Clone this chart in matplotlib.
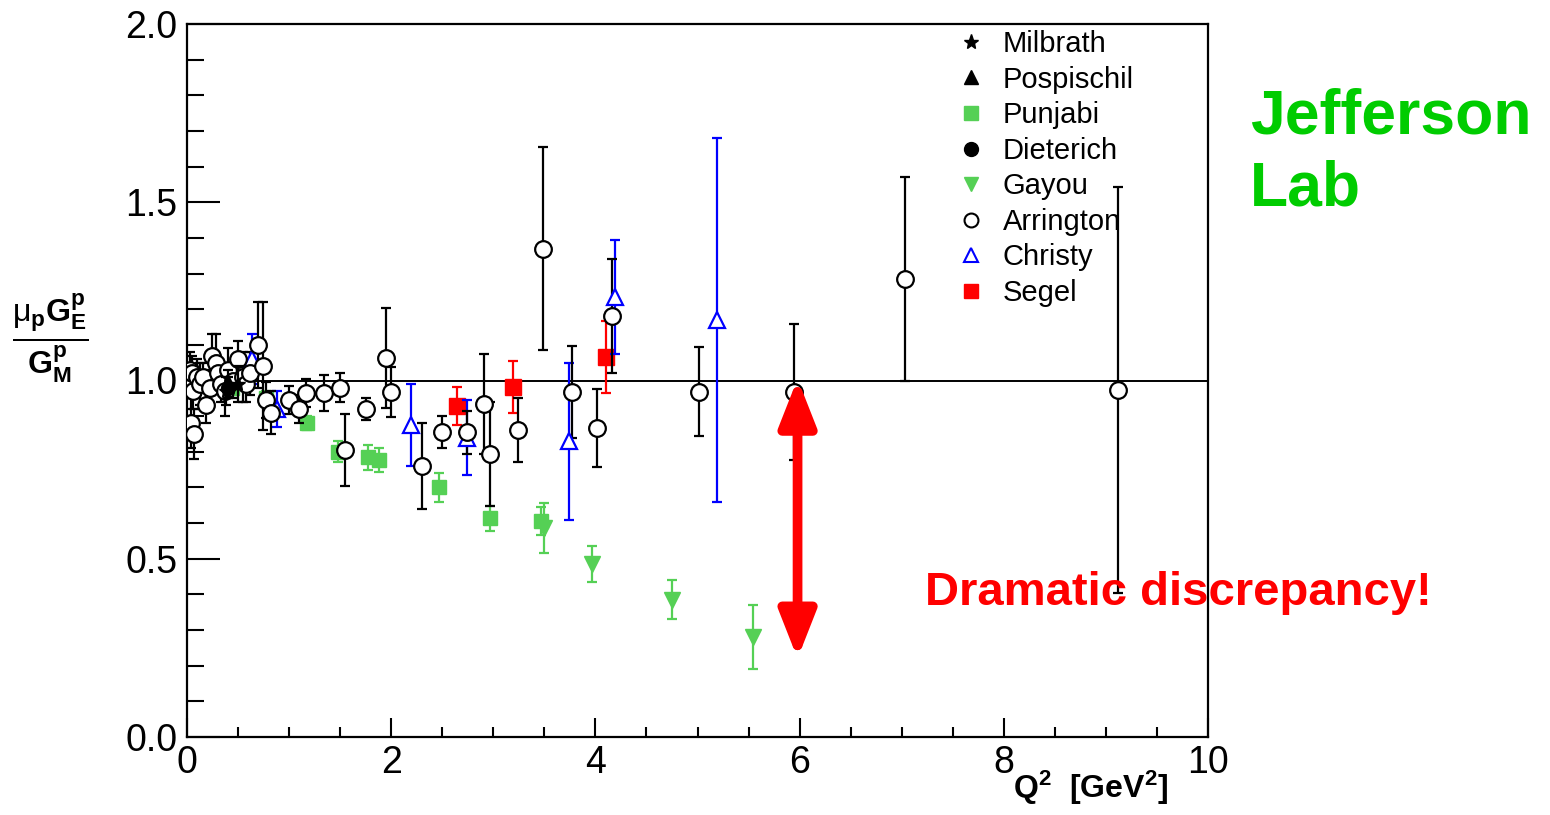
import numpy as np
import matplotlib.pyplot as plt
from matplotlib.lines import Line2D
from matplotlib.ticker import MultipleLocator

plt.rcParams['font.family'] = ['Liberation Sans', 'DejaVu Sans']
plt.rcParams['mathtext.fontset'] = 'custom'
plt.rcParams['mathtext.rm'] = 'Liberation Sans'
plt.rcParams['mathtext.bf'] = 'Liberation Sans:bold'
plt.rcParams['mathtext.it'] = 'Liberation Sans:italic'

# dane: Q^2 [GeV^2], mu_p GE/GM, blad
arr_q2 = [0.02, 0.03, 0.04, 0.05, 0.06, 0.04, 0.07, 0.10, 0.13, 0.16, 0.19, 0.23,
          0.24, 0.28, 0.30, 0.33, 0.37, 0.40, 0.45, 0.50, 0.55, 0.58, 0.62, 0.70,
          0.74, 0.77, 0.82, 1.00, 1.10, 1.17, 1.34, 1.50, 1.55, 1.75, 1.95, 2.00,
          2.30, 2.50, 2.74, 2.91, 2.97, 3.24, 3.49, 3.77, 4.02, 4.16, 5.01, 5.95,
          7.03, 9.12]
arr_r = [1.00, 1.03, 0.99, 1.02, 0.97, 0.88, 0.85, 1.01, 0.99, 1.01, 0.93, 0.98,
         1.07, 1.05, 1.02, 0.99, 0.97, 1.03, 1.00, 1.06, 1.01, 0.99, 1.02, 1.10,
         1.04, 0.945, 0.91, 0.945, 0.92, 0.965, 0.965, 0.98, 0.805, 0.92, 1.063, 0.968,
         0.76, 0.855, 0.855, 0.935, 0.794, 0.861, 1.37, 0.968, 0.867, 1.18, 0.968, 0.968,
         1.285, 0.973]
arr_err = [0.04, 0.05, 0.04, 0.05, 0.05, 0.07, 0.07, 0.05, 0.06, 0.04, 0.05, 0.05,
           0.06, 0.08, 0.04, 0.05, 0.07, 0.06, 0.05, 0.05, 0.07, 0.05, 0.06, 0.12,
           0.18, 0.05, 0.06, 0.04, 0.04, 0.04, 0.05, 0.04, 0.10, 0.03, 0.14, 0.07,
           0.12, 0.045, 0.06, 0.14, 0.145, 0.09, 0.285, 0.13, 0.11, 0.16, 0.125, 0.19,
           0.285, 0.57]

pun_q2 = [0.44, 0.77, 1.18, 1.48, 1.77, 1.88, 2.47, 2.97, 3.47]
pun_r = [0.98, 0.95, 0.88, 0.80, 0.785, 0.777, 0.70, 0.614, 0.606]
pun_err = [0.02, 0.02, 0.02, 0.03, 0.035, 0.035, 0.04, 0.035, 0.04]

gay_q2 = [3.50, 3.97, 4.75, 5.54]
gay_r = [0.585, 0.485, 0.385, 0.28]
gay_err = [0.07, 0.05, 0.055, 0.09]

chr_q2 = [0.64, 0.88, 2.19, 2.74, 3.74, 4.19, 5.19]
chr_r = [1.06, 0.92, 0.875, 0.84, 0.83, 1.233, 1.17]
chr_err = [0.07, 0.05, 0.115, 0.105, 0.22, 0.16, 0.51]

seg_q2 = [2.64, 3.19, 4.10]
seg_r = [0.928, 0.982, 1.066]
seg_err = [0.053, 0.072, 0.10]

die_q2 = [0.40]
die_r = [0.98]
die_err = [0.03]

mil_q2 = [0.38, 0.50]
mil_r = [0.97, 0.99]
mil_err = [0.04, 0.05]

pos_q2 = [0.40]
pos_r = [1.00]
pos_err = [0.03]

# strzalka "dramatic discrepancy"
arrow_q2 = 5.98
arrow_top = 1.005
arrow_bottom = 0.22

green = '#55d055'

fig = plt.figure(figsize=(15.5, 8.15), dpi=100)
ax = fig.add_axes([187/1550, 1-737/815, 1021/1550, 713/815])

ax.axhline(1.0, color='black', lw=1.4, zorder=1)

ebkw = dict(linestyle='none', capsize=3.5, elinewidth=1.6, capthick=1.6)
ax.errorbar(pun_q2, pun_r, yerr=pun_err, fmt='s', color=green, ms=10, **ebkw, zorder=3)
ax.errorbar(gay_q2, gay_r, yerr=gay_err, fmt='v', color=green, ms=12, **ebkw, zorder=3)
ax.errorbar(seg_q2, seg_r, yerr=seg_err, fmt='s', color='red', ms=11, **ebkw, zorder=3)
ax.errorbar(chr_q2, chr_r, yerr=chr_err, fmt='^', color='blue', mfc='white', mec='blue',
            mew=1.6, ms=12, **ebkw, zorder=4)
ax.errorbar(arr_q2, arr_r, yerr=arr_err, fmt='o', color='black', mfc='white', mec='black',
            mew=1.6, ms=12, **ebkw, zorder=4)
ax.errorbar(mil_q2, mil_r, yerr=mil_err, fmt='*', color='black', ms=10, **ebkw, zorder=5)
ax.errorbar(pos_q2, pos_r, yerr=pos_err, fmt='^', color='black', ms=9, **ebkw, zorder=5)
ax.errorbar(die_q2, die_r, yerr=die_err, fmt='o', color='black', ms=10, **ebkw, zorder=5)

ax.set_xlim(0, 10)
ax.set_ylim(0, 2.0)
ax.xaxis.set_major_locator(MultipleLocator(2))
ax.xaxis.set_minor_locator(MultipleLocator(0.5))
ax.yaxis.set_major_locator(MultipleLocator(0.5))
ax.yaxis.set_minor_locator(MultipleLocator(0.1))
ax.tick_params(axis='both', which='both', direction='in', top=False, right=False,
               width=1.5, labelsize=27)
ax.tick_params(axis='y', which='major', length=24, pad=7)
ax.tick_params(axis='y', which='minor', length=12)
ax.tick_params(axis='x', which='major', length=14, pad=6)
ax.tick_params(axis='x', which='minor', length=7)
ax.yaxis.set_major_formatter(plt.FuncFormatter(lambda v, p: f'{v:.1f}'))
for s in ax.spines.values():
    s.set_linewidth(1.6)

# legenda
handles = [
    Line2D([], [], ls='none', marker='*', color='black', ms=11),
    Line2D([], [], ls='none', marker='^', color='black', ms=10),
    Line2D([], [], ls='none', marker='s', color=green, ms=10),
    Line2D([], [], ls='none', marker='o', color='black', ms=10),
    Line2D([], [], ls='none', marker='v', color=green, ms=10),
    Line2D([], [], ls='none', marker='o', mfc='white', mec='black', mew=1.5, ms=10),
    Line2D([], [], ls='none', marker='^', mfc='white', mec='blue', mew=1.5, ms=10),
    Line2D([], [], ls='none', marker='s', color='red', ms=10),
]
labels = ['Milbrath', 'Pospischil', 'Punjabi', 'Dieterich', 'Gayou', 'Arrington',
          'Christy', 'Segel']
ax.legend(handles, labels, loc='upper left', bbox_to_anchor=(0.742, 1.008),
          frameon=False, fontsize=21, handlelength=1.0, handletextpad=0.6,
          labelspacing=0.26, borderaxespad=0)

ax.annotate('', xy=(arrow_q2, arrow_bottom), xytext=(arrow_q2, arrow_top),
            arrowprops=dict(arrowstyle='<|-|>,head_length=1.4,head_width=0.55',
                            color='red', lw=7, mutation_scale=20,
                            shrinkA=0, shrinkB=0), zorder=6)
ax.text(7.23, 0.405, 'Dramatic discrepancy!', color='red', fontsize=34,
        fontweight='bold', ha='left', va='center', zorder=7, clip_on=False)

fig.text(1250/1550, 1-87/815, 'Jefferson\nLab', color='#00cc00', fontsize=45,
         fontweight='bold', ha='left', va='top', linespacing=1.3)

fig.text(50/1550, 1-338/815,
         r'$\frac{\mathrm{μ}_{\mathbf{p}}\mathbf{G}^{\mathbf{p}}_{\mathbf{E}}}'
         r'{\mathbf{G}^{\mathbf{p}}_{\mathbf{M}}}$',
         fontsize=33, ha='center', va='center')

fig.text(1168/1550, 1-798/815, r'Q$^{\mathbf{2}}$  [GeV$^{\mathbf{2}}$]',
         fontsize=23, fontweight='bold', ha='right', va='baseline')

plt.savefig('out.png', dpi=100)
